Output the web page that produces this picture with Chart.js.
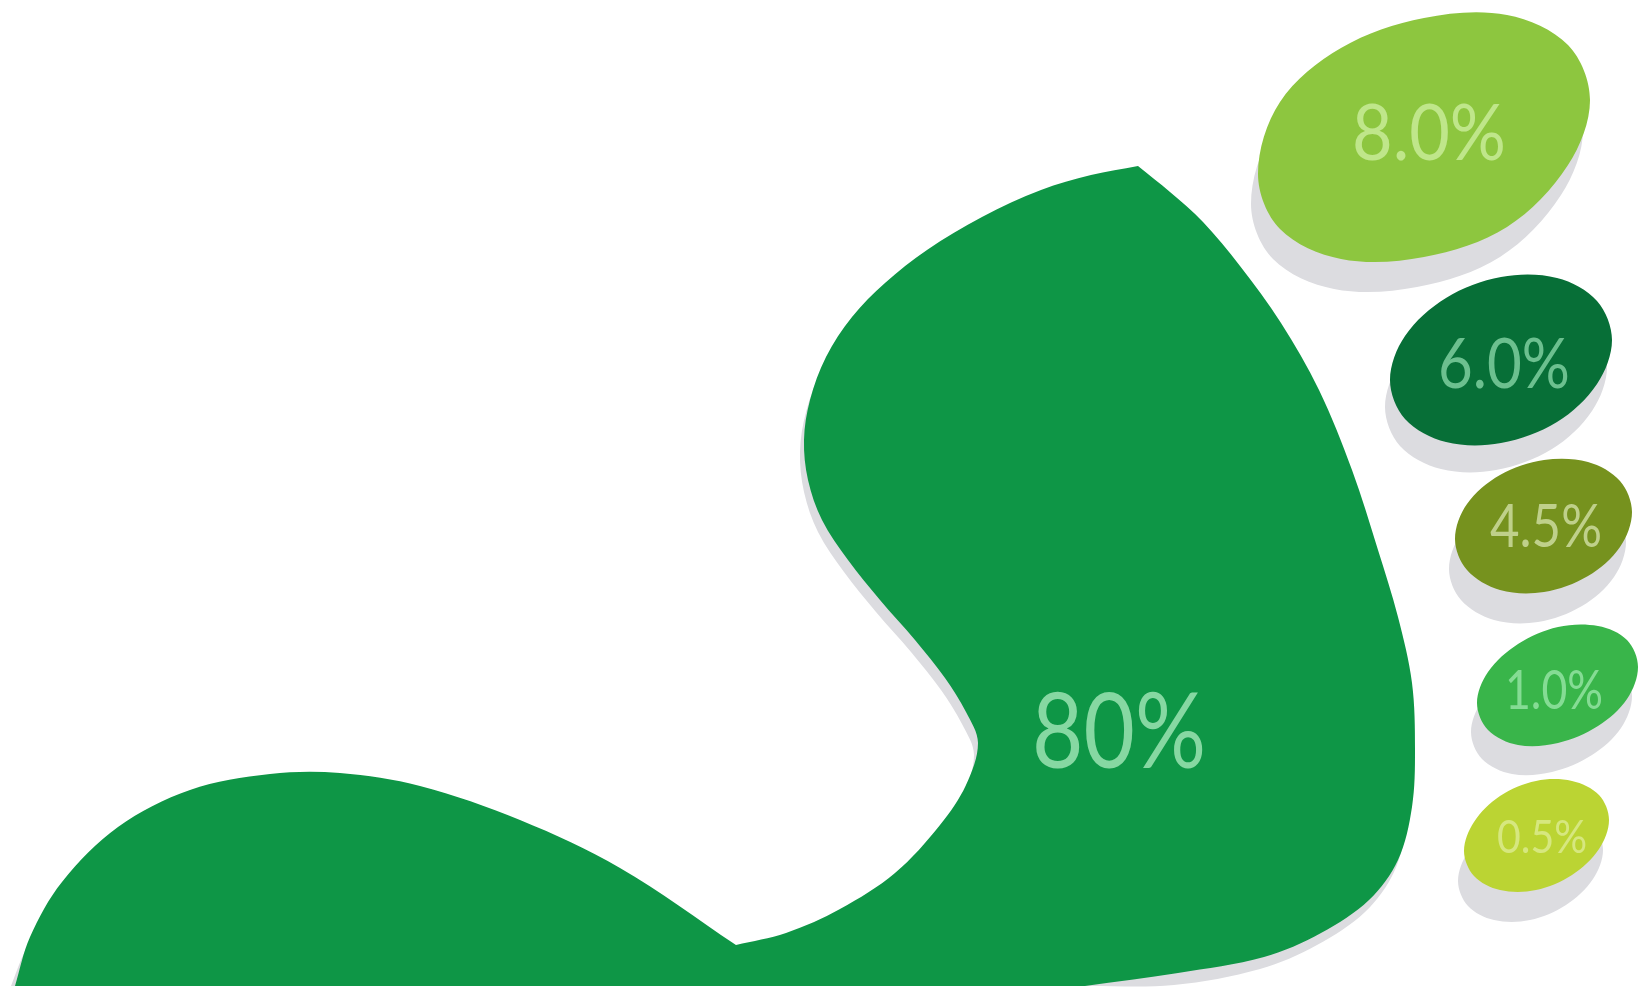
<!DOCTYPE html>
<html>
<head>
<meta charset="utf-8">
<title>Footprint</title>
<style>
  html, body { margin: 0; padding: 0; background: #fff; }
  canvas { display: block; }
</style>
<script src="https://cdn.jsdelivr.net/npm/chart.js@4"></script>
</head>
<body>
<canvas id="footprintCanvas" width="1649" height="990"></canvas>
<script>
'use strict';

// Labels, biggest share first: sole, then toes from top to bottom
const LABELS = ['80%', '8.0%', '6.0%', '4.5%', '1.0%', '0.5%'];
const COLORS = ['#0e9646', '#8dc63f', '#076f37', '#76921e', '#39b54a', '#bbd433'];
const TEXT_COLORS = ['#86d8a2', '#bfe68a', '#6cc08f', '#bfd08a', '#85dc94', '#d6e77f'];

// Outlines. A repeated point makes a sharp corner.
const SOLE_X = [15, 15, 30, 62, 118, 190, 270, 340, 420, 520, 620, 736, 736, 786, 840, 895, 940, 966, 978, 966, 945, 915, 880, 848, 822, 808, 804, 810, 826, 852, 885, 927, 982, 1041, 1091, 1138, 1138, 1170, 1203, 1240, 1281, 1319, 1352, 1378, 1398, 1412, 1415, 1412, 1398, 1369, 1321, 1264, 1178, 1085, 1085];
const SOLE_Y = [986, 986, 937, 882, 827, 790, 774, 773, 786, 820, 868, 945, 945, 933, 909, 873, 825, 785, 743, 712, 678, 640, 600, 560, 520, 480, 440, 400, 357, 317, 283, 250, 217, 190, 175, 166, 166, 192, 222, 266, 323, 390, 470, 550, 617, 683, 750, 807, 860, 900, 933, 957, 973, 986, 986];
const TOE1_X = [1590, 1568, 1507, 1424, 1341, 1280, 1258, 1280, 1341, 1424, 1507, 1568];
const TOE1_Y = [100, 45, 15, 18, 48, 102, 174, 229, 259, 257, 227, 165];
const TOE2_X = [1612, 1597, 1557, 1501, 1446, 1405, 1390, 1405, 1446, 1501, 1557, 1597];
const TOE2_Y = [340, 301, 278, 277, 298, 336, 380, 419, 442, 443, 422, 384];
const TOE3_X = [1632, 1620, 1588, 1544, 1500, 1467, 1455, 1467, 1500, 1544, 1588, 1620];
const TOE3_Y = [512, 481, 462, 460, 475, 504, 539, 570, 590, 592, 576, 547];
const TOE4_X = [1638, 1627, 1598, 1558, 1518, 1488, 1477, 1488, 1518, 1558, 1598, 1627];
const TOE4_Y = [667, 640, 626, 627, 644, 672, 703, 730, 745, 743, 726, 699];
const TOE5_X = [1609, 1599, 1572, 1536, 1500, 1474, 1464, 1474, 1500, 1536, 1572, 1599];
const TOE5_Y = [820, 795, 781, 781, 796, 822, 851, 876, 890, 890, 875, 849];

// Where the shadow sits relative to each shape; the picture stops at IMAGE_BOTTOM
const SHADOW_DX = [-4, -7, -5, -6, -6, -6];
const SHADOW_DY = [12, 30, 27, 30, 29, 30];
const SHADOW_COLOR = '#dcdce0';
const IMAGE_BOTTOM = 986;

// Text placement: centre x, baseline y, width, font size
const TEXT_X = [1119, 1429, 1504, 1546, 1554, 1542];
const TEXT_Y = [768, 160, 388, 547, 709, 853];
const TEXT_W = [174, 154, 132, 112, 98, 90];
const TEXT_SIZE = [104, 78, 69, 60, 54, 46];

// Wrap a toe outline past its start so the spline has no seam there
function closeLoop(values) {
  return [values[values.length - 1], ...values, values[0], values[1]];
}

const SHAPES = [
  [SOLE_X, SOLE_Y],
  [closeLoop(TOE1_X), closeLoop(TOE1_Y)],
  [closeLoop(TOE2_X), closeLoop(TOE2_Y)],
  [closeLoop(TOE3_X), closeLoop(TOE3_Y)],
  [closeLoop(TOE4_X), closeLoop(TOE4_Y)],
  [closeLoop(TOE5_X), closeLoop(TOE5_Y)],
];

function toPoints(xs, ys, dx = 0, dy = 0) {
  return xs.map((x, i) => ({ x: x + dx, y: Math.min(ys[i] + dy, IMAGE_BOTTOM) }));
}

function shapeDataset(data, color) {
  return {
    data,
    showLine: true,
    fill: 'shape',
    backgroundColor: color,
    borderColor: color,
    borderWidth: 0,
    pointRadius: 0,
    tension: 0.34,
  };
}

const shadowSets = SHAPES.map(([xs, ys], i) =>
  shapeDataset(toPoints(xs, ys, SHADOW_DX[i], SHADOW_DY[i]), SHADOW_COLOR));
const shapeSets = SHAPES.map(([xs, ys], i) =>
  shapeDataset(toPoints(xs, ys), COLORS[i]));

const shareLabels = {
  id: 'shareLabels',
  afterDatasetsDraw(chart) {
    const { ctx, scales: { x, y } } = chart;
    ctx.save();
    ctx.textAlign = 'center';
    ctx.textBaseline = 'alphabetic';
    LABELS.forEach((label, i) => {
      ctx.font = `400 ${TEXT_SIZE[i]}px Lato, "Open Sans", sans-serif`;
      ctx.fillStyle = TEXT_COLORS[i];
      ctx.fillText(label, x.getPixelForValue(TEXT_X[i]), y.getPixelForValue(TEXT_Y[i]), TEXT_W[i]);
    });
    ctx.restore();
  },
};

new Chart(document.getElementById('footprintCanvas'), {
  type: 'scatter',
  // the first dataset is drawn on top, so the coloured shapes go first
  data: { datasets: [...shapeSets, ...shadowSets] },
  plugins: [shareLabels],
  options: {
    responsive: false,
    animation: false,
    layout: { padding: 0 },
    plugins: {
      legend: { display: false },
      tooltip: { enabled: false },
    },
    scales: {
      x: { type: 'linear', display: false, min: 0, max: 1649 },
      y: { type: 'linear', display: false, min: 0, max: 990, reverse: true },
    },
  },
});
</script>
</body>
</html>
